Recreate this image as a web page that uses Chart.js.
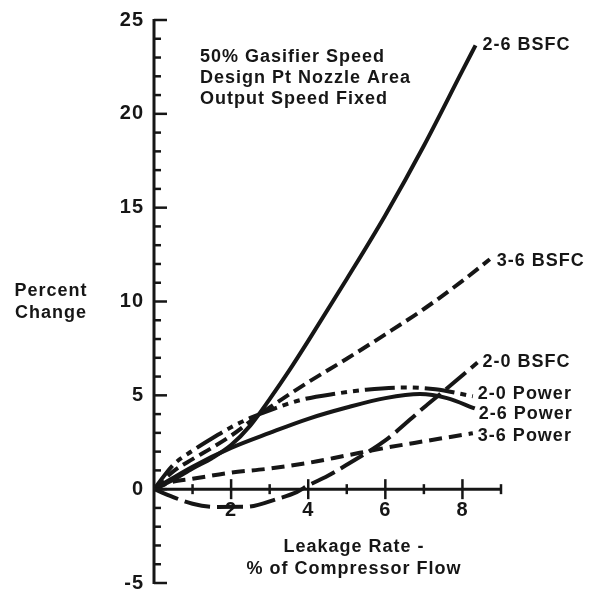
<!DOCTYPE html>
<html>
<head>
<meta charset="utf-8">
<script src="https://cdn.jsdelivr.net/npm/chart.js@4.4.1/dist/chart.umd.min.js"></script>
<style>
  body { margin: 0; background: #fff; }
  canvas { display: block; }
</style>
</head>
<body>
<canvas id="leakChrt" width="589" height="603"></canvas>
<script>
(function(){

// ---- values (x = leakage rate %, y = percent change)
const seriesNames = ["2-6 BSFC", "3-6 BSFC", "2-0 BSFC", "2-0 Power", "2-6 Power", "3-6 Power"];

const xBsfc26 = [0, 0.5, 1, 1.5, 2, 2.5, 3, 3.5, 4, 5, 6, 7, 8, 8.34];
const yBsfc26 = [0, 0.5, 1.1, 1.65, 2.35, 3.4, 4.8, 6.3, 7.9, 11.2, 14.6, 18.3, 22.3, 23.65];

const xBsfc36 = [0, 0.5, 1, 1.5, 2, 2.75, 4, 5, 6, 7, 8, 8.71];
const yBsfc36 = [0, 0.95, 1.6, 2.2, 2.85, 4.0, 5.7, 6.95, 8.25, 9.6, 11.1, 12.25];

const xBsfc20 = [0, 0.42, 1, 1.6, 2.4, 3.2, 3.7, 4, 4.5, 5, 6, 7, 7.5, 8.39];
const yBsfc20 = [0, -0.36, -0.78, -0.95, -0.94, -0.52, -0.16, 0.2, 0.7, 1.3, 2.6, 4.35, 5.2, 6.75];

const xPower20 = [0, 0.5, 1, 1.5, 2, 2.5, 3, 3.8, 4.75, 5.5, 6.5, 7.3, 8.27];
const yPower20 = [0, 1.3, 2.05, 2.7, 3.3, 3.8, 4.2, 4.75, 5.1, 5.3, 5.42, 5.32, 4.95];

const xPower26 = [0, 1, 2, 3, 4, 5, 6, 6.9, 7.6, 8.32];
const yPower26 = [0, 1.2, 2.2, 3.0, 3.75, 4.35, 4.85, 5.07, 4.85, 4.3];

const xPower36 = [0, 0.42, 1, 2, 3, 4, 5, 6, 7, 7.5, 8.27];
const yPower36 = [0, 0.36, 0.55, 0.88, 1.1, 1.4, 1.8, 2.2, 2.55, 2.72, 2.98];

const yTickMin = -5, yTickMax = 25;
const xTickMin = 0, xTickMax = 9;

const noteLines = ["50% Gasifier Speed", "Design Pt Nozzle Area", "Output Speed Fixed"];
const yTitle = ["Percent", "Change"];
const xTitle = ["Leakage Rate -", "% of Compressor Flow"];

// ---- look
const ink = "#161616";
const fam = "'Liberation Sans', Arial, Helvetica, sans-serif";
const dashes = [[], [13, 6], [26, 7], [30, 6, 6, 6, 6, 6], [], [13, 7]];
// label offset from end of line (dx, dy) in px
const labelOff = [[7, 0], [7, 2], [5, 0], [5, -2], [4, 6], [5, 3]];

function pts(xs, ys){
    return xs.map((x, i) => ({x: x, y: ys[i]}));
}

const allData = [
    pts(xBsfc26, yBsfc26),
    pts(xBsfc36, yBsfc36),
    pts(xBsfc20, yBsfc20),
    pts(xPower20, yPower20),
    pts(xPower26, yPower26),
    pts(xPower36, yPower36)
];

const datasets = allData.map((d, i) => ({
    label: seriesNames[i],
    data: d,
    borderColor: ink,
    borderWidth: 4,
    borderDash: dashes[i],
    borderCapStyle: "butt",
    pointRadius: 0,
    fill: false,
    cubicInterpolationMode: "monotone"
}));

//---- axes, tick marks and texts
const paperPlugin = {
    id: "paper",
    beforeDraw(chart){
        const ctx = chart.ctx;
        ctx.fillStyle = "#fff";
        ctx.fillRect(0, 0, chart.width, chart.height);
        ctx.letterSpacing = "1px";
    },
    afterDraw(chart){
        const ctx = chart.ctx;
        const xs = chart.scales.x, ys = chart.scales.y;
        const x0 = xs.getPixelForValue(0);
        const y0 = ys.getPixelForValue(0);
        ctx.save();
        ctx.strokeStyle = ink;
        ctx.lineCap = "butt";

        // y axis line + inward ticks
        ctx.lineWidth = 3;
        ctx.beginPath();
        ctx.moveTo(x0, ys.getPixelForValue(yTickMax) - 1);
        ctx.lineTo(x0, ys.getPixelForValue(yTickMin) + 1);
        ctx.stroke();
        ctx.lineWidth = 2.5;
        for (let v = yTickMin; v <= yTickMax; v++) {
            const p = ys.getPixelForValue(v);
            const len = (v % 5 === 0) ? 13 : 7;
            ctx.beginPath();
            ctx.moveTo(x0, p);
            ctx.lineTo(x0 + len, p);
            ctx.stroke();
        }

        // x axis line at y = 0 + crossing ticks
        ctx.lineWidth = 3;
        ctx.beginPath();
        ctx.moveTo(x0, y0);
        ctx.lineTo(xs.getPixelForValue(xTickMax), y0);
        ctx.stroke();
        ctx.lineWidth = 2.5;
        for (let v = xTickMin + 1; v <= xTickMax; v++) {
            const p = xs.getPixelForValue(v);
            const len = (v % 2 === 0) ? 10 : 5;
            ctx.beginPath();
            ctx.moveTo(p, y0 - len);
            ctx.lineTo(p, y0 + len);
            ctx.stroke();
        }

        ctx.fillStyle = ink;
        ctx.font = "bold 18px " + fam;
        ctx.letterSpacing = "1px";
        ctx.textBaseline = "middle";

        // note top left
        ctx.textAlign = "left";
        noteLines.forEach((t, i) => ctx.fillText(t, 200, 57 + i * 21));

        // y title
        ctx.textAlign = "center";
        ctx.fillText(yTitle[0], 51, 291);
        ctx.fillText(yTitle[1], 51, 313);

        // x title
        ctx.fillText(xTitle[0], 354, 547);
        ctx.fillText(xTitle[1], 354, 569);

        // series labels at line ends
        ctx.textAlign = "left";
        chart.data.datasets.forEach((ds, i) => {
            const last = ds.data[ds.data.length - 1];
            const px = xs.getPixelForValue(last.x) + labelOff[i][0];
            const py = ys.getPixelForValue(last.y) + labelOff[i][1];
            ctx.fillText(ds.label, px, py);
        });
        ctx.restore();
    }
};

const ctx = document.querySelector("#leakChrt");

let myChart = new Chart(ctx, {
    type: "line",
    data: { datasets: datasets },
    options: {
        responsive: false,
        animation: false,
        devicePixelRatio: 1,
        layout: { padding: { left: 0, top: 15, right: 88, bottom: 11 } },
        plugins: {
            legend: { display: false },
            tooltip: { enabled: false }
        },
        scales: {
            x: {
                type: "linear",
                min: xTickMin,
                max: xTickMax,
                position: { y: 0 },
                afterFit: (s) => { s.height = 0; },
                grid: { display: false, drawTicks: false },
                border: { display: false },
                ticks: {
                    stepSize: 1,
                    autoSkip: false,
                    maxRotation: 0,
                    padding: 11,
                    color: ink,
                    font: { family: fam, size: 20, weight: "bold", lineHeight: 1 },
                    callback: (v) => (v > 0 && v < 9 && v % 2 === 0) ? String(v) : ""
                }
            },
            y: {
                type: "linear",
                min: yTickMin,
                max: yTickMax,
                position: "left",
                afterFit: (s) => { s.width = 154; },
                grid: { display: false, drawTicks: false },
                border: { display: false },
                ticks: {
                    stepSize: 1,
                    autoSkip: false,
                    padding: 10,
                    color: ink,
                    font: { family: fam, size: 20, weight: "bold", lineHeight: 1 },
                    callback: (v) => (v % 5 === 0) ? String(v) : ""
                }
            }
        }
    },
    plugins: [paperPlugin]
});

})();
</script>
</body>
</html>
